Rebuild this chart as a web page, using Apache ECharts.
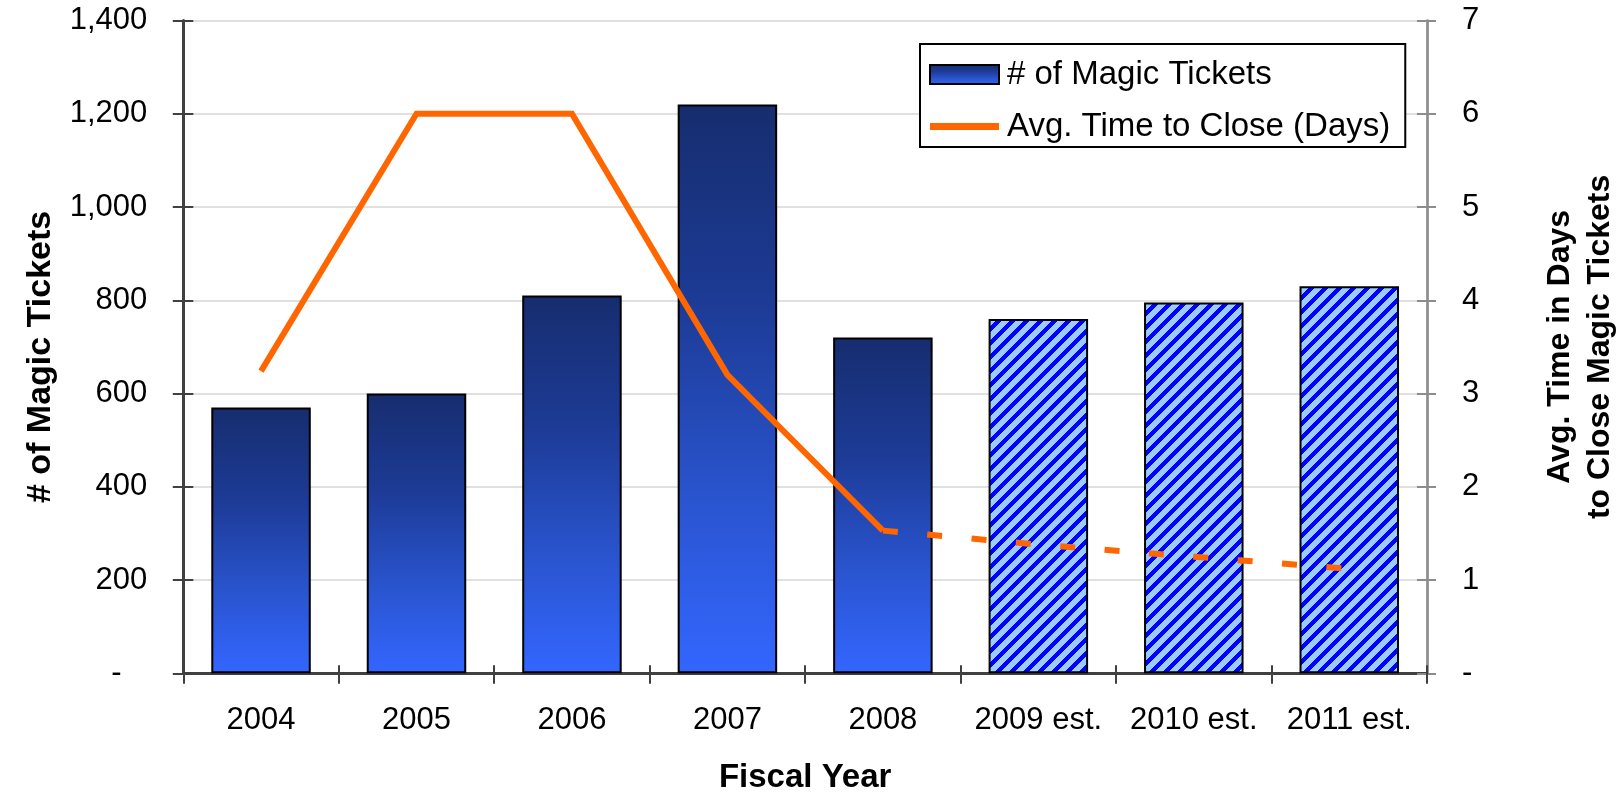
<!DOCTYPE html>
<html>
<head>
<meta charset="utf-8">
<style>
  html, body { margin: 0; padding: 0; background: #fff; }
  #chart { width: 1617px; height: 793px; }
</style>
<script src="https://cdn.jsdelivr.net/npm/echarts@6/dist/echarts.min.js"></script>
</head>
<body>
<div id="chart"></div>
<script>
// Fiscal years on the category axis
const categories = ['2004', '2005', '2006', '2007', '2008', '2009 est.', '2010 est.', '2011 est.'];
// Number of magic tickets per year (left axis)
const ticketCounts = [570, 600, 810, 1220, 720, 760, 795, 830];
// Which years are estimates (drawn hatched)
const isEstimate = [false, false, false, false, false, true, true, true];
// Average days to close (right axis): actuals solid, estimates dashed
const closeDaysActual = [3.24, 6, 6, 3.2, 1.53, '-', '-', '-'];
const closeDaysEstimate = ['-', '-', '-', '-', 1.53, 1.38, 1.25, 1.12];
// Axis ranges
const ticketAxis = { min: 0, max: 1400, step: 200 };
const daysAxis = { min: 0, max: 7, step: 1 };

const FONT = '"Liberation Sans", Arial, sans-serif';
const DARK = '#404040';
const GREY = '#8c8c8c';
const ORANGE = '#FF6600';

// Wide upward diagonal hatch for the estimated years
function makeHatch() {
  const N = 14, W = 6;
  const c = document.createElement('canvas');
  c.width = N; c.height = N;
  const ctx = c.getContext('2d');
  const img = ctx.createImageData(N, N);
  for (let y = 0; y < N; y++) {
    for (let x = 0; x < N; x++) {
      const i = (y * N + x) * 4;
      const blue = ((x + y) % N) < W;
      img.data[i] = blue ? 0 : 0x99;
      img.data[i + 1] = blue ? 0 : 0xCC;
      img.data[i + 2] = 0xFF;
      img.data[i + 3] = 255;
    }
  }
  ctx.putImageData(img, 0, 0);
  return c;
}
const hatchFill = { image: makeHatch(), repeat: 'repeat' };

const barGradient = {
  type: 'linear', x: 0, y: 0, x2: 0, y2: 1,
  colorStops: [
    { offset: 0, color: '#162D6E' },
    { offset: 0.35, color: '#1D3B96' },
    { offset: 0.7, color: '#2A55D0' },
    { offset: 1, color: '#3366FF' }
  ]
};

const barData = ticketCounts.map((v, i) => isEstimate[i]
  ? { value: v, itemStyle: { color: hatchFill } }
  : v);

const chart = echarts.init(document.getElementById('chart'), null, { renderer: 'canvas' });

const labelStyle = { color: '#000', fontFamily: FONT, fontSize: 31 };
const titleStyle = { color: '#000', fontFamily: FONT, fontSize: 33, fontWeight: 'bold' };

chart.setOption({
  animation: false,
  backgroundColor: '#fff',
  grid: { left: 183.3, right: 190, top: 20.5, bottom: 119.7, containLabel: false, outerBoundsMode: 'none' },
  legend: {
    orient: 'vertical',
    left: 920, top: 44,
    padding: [14, 15, 4, 9],
    itemGap: 19,
    itemWidth: 69, itemHeight: 19,
    symbolKeepAspect: true,
    borderColor: '#000', borderWidth: 2,
    backgroundColor: '#fff',
    textStyle: { color: '#000', fontFamily: FONT, fontSize: 33, padding: [0, 0, 0, 3] },
    data: [
      { name: '# of Magic Tickets', icon: 'rect', itemStyle: { borderColor: '#000', borderWidth: 2 } },
      { name: 'Avg. Time to Close (Days)', icon: 'path://M0,0H69V7H0Z', itemStyle: { color: ORANGE, borderWidth: 0 } }
    ]
  },
  xAxis: [
    {
      type: 'category', data: categories, position: 'bottom',
      name: 'Fiscal Year', nameLocation: 'middle', nameGap: 88, nameTextStyle: titleStyle,
      axisLine: { show: true, lineStyle: { color: DARK, width: 3 } },
      axisTick: { show: true, inside: false, interval: 0, length: 10.5, lineStyle: { color: DARK, width: 2 } },
      axisLabel: Object.assign({ margin: 32, interval: 0 }, labelStyle),
      splitLine: { show: false }
    },
    {
      type: 'category', data: categories, position: 'bottom',
      axisLine: { show: false },
      axisTick: { show: true, inside: true, interval: 0, length: 8, lineStyle: { color: DARK, width: 2 } },
      axisLabel: { show: false }, splitLine: { show: false }
    },
    {
      type: 'category', data: categories, position: 'top',
      axisLine: { show: true, lineStyle: { color: DARK, width: 2 } },
      axisTick: { show: false }, axisLabel: { show: false }, splitLine: { show: false }
    }
  ],
  yAxis: [
    {
      type: 'value', position: 'left',
      min: ticketAxis.min, max: ticketAxis.max, interval: ticketAxis.step,
      name: '# of Magic Tickets', nameLocation: 'middle', nameRotate: 90, nameGap: 126,
      nameTextStyle: Object.assign({}, titleStyle, { fontSize: 34, padding: [0, 20, 0, 0] }),
      axisLine: { show: true, lineStyle: { color: DARK, width: 3 } },
      axisTick: { show: true, inside: false, length: 10.5, lineStyle: { color: DARK, width: 2 } },
      axisLabel: Object.assign({
        margin: 36,
        formatter: v => v === 0 ? '-   ' : v.toLocaleString('en-US')
      }, labelStyle),
      splitLine: { show: true, lineStyle: { color: '#D6D6D6', width: 1.5 } }
    },
    {
      type: 'value', position: 'left',
      min: ticketAxis.min, max: ticketAxis.max, interval: ticketAxis.step,
      axisLine: { show: false },
      axisTick: { show: true, inside: true, length: 10, lineStyle: { color: DARK, width: 2 } },
      axisLabel: { show: false }, splitLine: { show: false }
    },
    {
      type: 'value', position: 'right',
      min: daysAxis.min, max: daysAxis.max, interval: daysAxis.step,
      name: 'Avg. Time in Days\nto Close Magic Tickets', nameLocation: 'middle', nameRotate: 90, nameGap: 113,
      nameTextStyle: Object.assign({ lineHeight: 40, align: 'center' }, titleStyle, { fontSize: 32 }),
      axisLine: { show: true, lineStyle: { color: GREY, width: 2.7 } },
      axisTick: { show: true, inside: false, length: 9, lineStyle: { color: GREY, width: 2 } },
      axisLabel: Object.assign({
        margin: 35,
        formatter: v => v === 0 ? '-' : String(v)
      }, labelStyle),
      splitLine: { show: false }
    },
    {
      type: 'value', position: 'right',
      min: daysAxis.min, max: daysAxis.max, interval: daysAxis.step,
      axisLine: { show: false },
      axisTick: { show: true, inside: true, length: 10, lineStyle: { color: GREY, width: 2 } },
      axisLabel: { show: false }, splitLine: { show: false }
    }
  ],
  series: [
    {
      name: '# of Magic Tickets',
      type: 'bar',
      xAxisIndex: 0, yAxisIndex: 0,
      barWidth: '64%',
      data: barData,
      itemStyle: { color: barGradient, borderColor: '#000', borderWidth: 2 },
      z: 2
    },
    {
      name: 'Avg. Time to Close (Days)',
      type: 'line',
      xAxisIndex: 0, yAxisIndex: 2,
      data: closeDaysActual,
      symbol: 'none', showSymbol: false,
      connectNulls: false,
      lineStyle: { color: ORANGE, width: 6, join: 'miter', cap: 'butt' },
      itemStyle: { color: ORANGE },
      z: 5
    },
    {
      name: 'Avg. Time to Close (Days)',
      type: 'line',
      xAxisIndex: 0, yAxisIndex: 2,
      data: closeDaysEstimate,
      symbol: 'none', showSymbol: false,
      lineStyle: { color: ORANGE, width: 6, type: [15, 29.5], cap: 'butt' },
      itemStyle: { color: ORANGE },
      z: 5
    }
  ]
});
</script>
</body>
</html>
